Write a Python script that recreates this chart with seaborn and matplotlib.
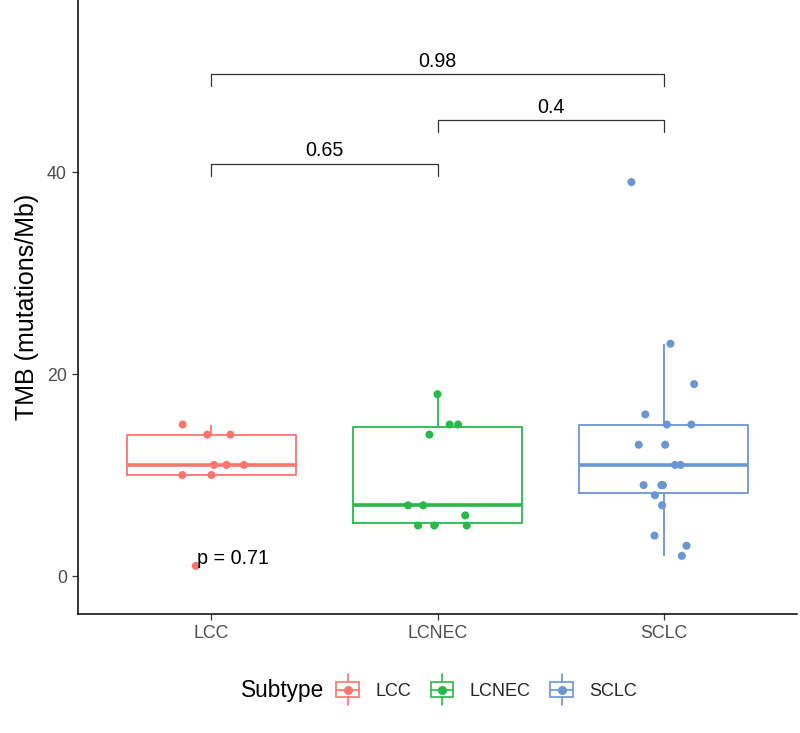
import numpy as np
import pandas as pd
import matplotlib
matplotlib.use("Agg")
import matplotlib.pyplot as plt
import seaborn as sns
from matplotlib.legend_handler import HandlerBase
from matplotlib.patches import Rectangle
from matplotlib.lines import Line2D

# ---- data ----
groups = ["LCC", "LCNEC", "SCLC"]
lcc_tmb = [15, 14, 14, 11, 11, 11, 10, 10, 1]
lcnec_tmb = [18, 15, 15, 14, 7, 7, 6, 5, 5, 5]
sclc_tmb = [39, 23, 19, 16, 15, 15, 13, 13, 11, 11, 9, 9, 9, 8, 7, 4, 3, 2]
palette = ["#F8766D", "#2BB84A", "#6A96D2"]

comp_pairs = [("LCC", "LCNEC"), ("LCNEC", "SCLC"), ("LCC", "SCLC")]
comp_labels = ["0.65", "0.4", "0.98"]
comp_y = [40.8, 45.1, 49.7]
global_label = "p = 0.71"

df = pd.DataFrame({
    "Subtype": ["LCC"] * len(lcc_tmb) + ["LCNEC"] * len(lcnec_tmb) + ["SCLC"] * len(sclc_tmb),
    "TMB": lcc_tmb + lcnec_tmb + sclc_tmb,
})

sns.set_theme(style="white")
plt.rcParams["font.family"] = ["Liberation Sans", "DejaVu Sans"]

fig = plt.figure(figsize=(8.0, 7.33), dpi=100)
ax = fig.add_axes([78 / 800, 1 - 614 / 733, (797 - 78) / 800, 614 / 733])

pal = dict(zip(groups, palette))
sns.boxplot(data=df, x="Subtype", y="TMB", hue="Subtype", order=groups, hue_order=groups,
            palette=pal, fill=False, width=0.75, showfliers=False, showcaps=False,
            linewidth=1.3, dodge=False, legend=False,
            medianprops=dict(linewidth=2.6), ax=ax)
np.random.seed(7)
sns.stripplot(data=df, x="Subtype", y="TMB", hue="Subtype", order=groups, hue_order=groups,
              palette=pal, jitter=0.15, size=5.8, linewidth=0, dodge=False, legend=False,
              ax=ax, zorder=3)

# comparison brackets
tip = 1.15
for (a, b), lab, yy in zip(comp_pairs, comp_labels, comp_y):
    xa, xb = groups.index(a), groups.index(b)
    ax.plot([xa, xa, xb, xb], [yy - tip, yy, yy, yy - tip], color="#333333", lw=0.9, zorder=4)
    ax.text((xa + xb) / 2, yy + 0.35, lab, ha="center", va="bottom", fontsize=14.2, color="black")

ax.text(-0.065, 1.7, global_label, ha="left", va="center", fontsize=14.2, color="black")

ax.set_xlim(-0.59, 2.59)
ax.set_ylim(-3.76, 57.03)
ax.set_yticks([0, 20, 40])
ax.set_xlabel("")
ax.set_ylabel("TMB (mutations/Mb)", fontsize=18, color="black", labelpad=6)
for s in ["top", "right"]:
    ax.spines[s].set_visible(False)
for s in ["left", "bottom"]:
    ax.spines[s].set_color("black")
    ax.spines[s].set_linewidth(1.1)
ax.tick_params(axis="both", which="both", length=4, width=0.9, color="#333333",
               labelcolor="#4D4D4D", labelsize=12.8, left=True, bottom=True, pad=4)


class BoxKeyHandler(HandlerBase):
    def create_artists(self, legend, orig_handle, xdescent, ydescent, width, height, fontsize, trans):
        c = orig_handle.get_color()
        cx = width / 2 - xdescent
        h = height * 1.7
        y0 = -ydescent + height / 2 - h / 2
        bx0, bx1 = -xdescent + width * 0.08, -xdescent + width * 0.92
        by0, by1 = y0 + h * 0.25, y0 + h * 0.75
        rect = Rectangle((bx0, by0), bx1 - bx0, by1 - by0, fill=False, edgecolor=c, lw=1.2, transform=trans)
        w1 = Line2D([cx, cx], [y0, by0], color=c, lw=1.2, transform=trans)
        w2 = Line2D([cx, cx], [by1, y0 + h], color=c, lw=1.2, transform=trans)
        med = Line2D([bx0, bx1], [y0 + h / 2, y0 + h / 2], color=c, lw=1.2, transform=trans)
        dot = Line2D([cx], [y0 + h / 2], marker="o", markersize=5.5, color=c, lw=0, transform=trans)
        return [rect, w1, w2, med, dot]


handles = [Line2D([], [], color=c) for c in palette]
leg = fig.legend(handles, groups, loc="center left", bbox_to_anchor=(334 / 800, 1 - 690 / 733),
                 ncol=3, frameon=False, fontsize=13, handlelength=1.5, handleheight=1.2,
                 handletextpad=0.8, columnspacing=0.95, borderpad=0, borderaxespad=0,
                 handler_map={Line2D: BoxKeyHandler()})
fig.text(241 / 800, 1 - 690 / 733, "Subtype", ha="left", va="center", fontsize=16.3, color="black")

fig.savefig("out.png", dpi=100, facecolor="white")
